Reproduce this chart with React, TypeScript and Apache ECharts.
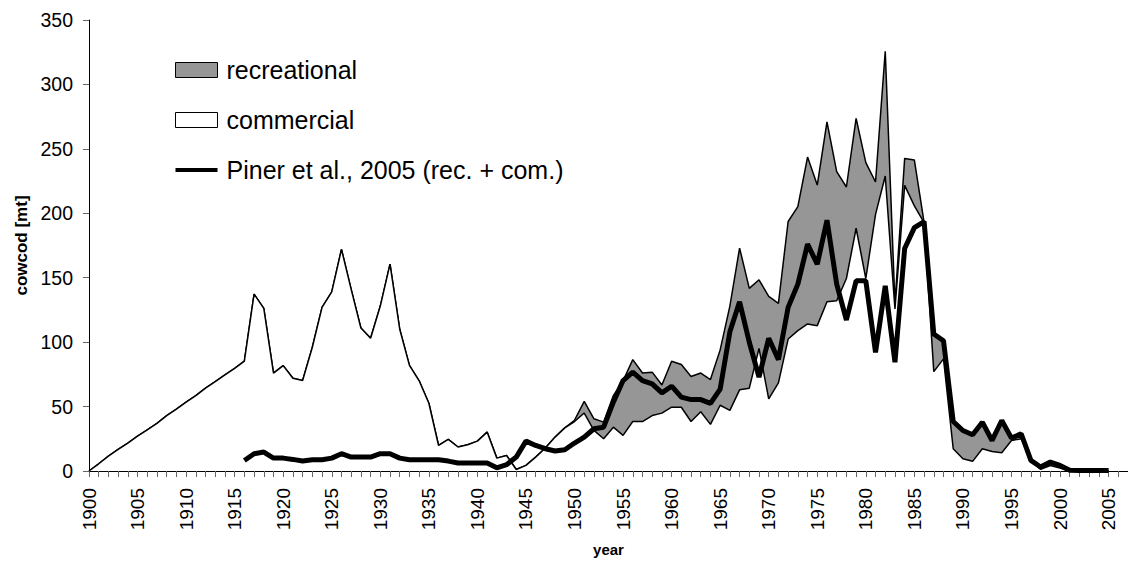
import React, { useEffect, useRef } from 'react';
import * as echarts from 'echarts';

const FIRST_YEAR = 1900;
const LAST_AXIS_YEAR = 2007;
const years: string[] = [];
for (let y = FIRST_YEAR; y <= LAST_AXIS_YEAR; y++) years.push(String(y));

// commercial catch 1900-2005 [mt]
const commercial: number[] = [
  0, 5.6, 11.6, 16.7, 21.7, 27, 32, 37, 43, 48,
  53.4, 58.5, 64.3, 69.4, 74.6, 79.7, 85.2, 137.3, 126.2, 75.9,
  81.8, 72, 70.2, 96, 127, 139, 172, 141, 111, 103,
  128, 160.5, 110, 82, 70, 52.6, 19.8, 24.5, 18.6, 20.4,
  23.2, 30.2, 10, 12, 1.2, 4.4, 10.8, 17.8, 26.3, 33.5,
  38.4, 45, 31.5, 25, 34, 27.6, 38.4, 38.4, 43, 44.9,
  49.5, 49.5, 38.4, 46, 36.2, 51, 47, 63, 64.3, 95.2,
  56, 68.4, 102.4, 108.9, 114.1, 112.8, 131.3, 132.1, 149.4, 188.4,
  149.4, 199.2, 228.9, 125.7, 221.7, 205.7, 192.8, 77.1, 87, 17.3,
  9.5, 7.5, 17.3, 15.2, 14.2, 23.7, 25, 8, 1.3, 4.3,
  2.3, 0, 0, 0, 0, 0,
];

// recreational catch, stacked on commercial, 1950-2005
const recreationalStart = 1950;
const recreationalFrom1950: number[] = [
  1, 9, 9, 12.9, 24.5, 42.4, 48, 37.7, 33.7, 21.9,
  35.7, 33.1, 34.9, 30, 34.8, 43, 81, 110, 77.4, 53.2,
  79.5, 61.7, 91.2, 96.3, 129.5, 109.1, 139.7, 100.2, 71, 85.2,
  89.9, 25.1, 96.8, 4.3, 20.9, 35.6, 0.2, 29.2, 14.1, 21.9,
  21.9, 20.6, 20.6, 8.5, 25, 1.8, 3.9, 0.2, 1.8, 2.7,
  2, 0.5, 0, 0, 0, 0,
];

// Piner et al., 2005 (rec. + com.), 1916-2005
const pinerStart = 1916;
const pinerFrom1916: number[] = [
  8.2, 13.4, 14.7, 10, 10, 9, 7.7, 8.7, 8.7, 10,
  13.4, 10.8, 10.8, 10.8, 13.4, 13.4, 10, 8.7, 8.7, 8.7,
  8.7, 7.7, 6.2, 6.2, 6.2, 6.2, 2.5, 4.9, 10.8, 23.2,
  19.8, 17.3, 15.5, 16.5, 21.7, 26.3, 32.8, 34, 53.4, 70.2,
  76.7, 70.2, 67.6, 60.6, 65.8, 57.3, 55.4, 55.4, 52.5, 63.5,
  108, 131.3, 99.9, 72.8, 103, 86.4, 127, 145, 176, 160.5,
  194.6, 145, 117.2, 147.6, 147.6, 92.1, 143.7, 84.4, 172.7, 188.9,
  193.6, 106.3, 101.1, 38.4, 31.4, 28.1, 37.9, 23.7, 39.2, 25.5,
  28.9, 8.2, 3.1, 7, 4.3, 0.5, 0.3, 0.3, 0.3, 0.3,
];

const yTicks = { min: 0, max: 350, interval: 50 };
const FONT = '"Liberation Sans", Arial, sans-serif';

export default function App() {
  const ref = useRef<HTMLDivElement>(null);
  useEffect(() => {
    if (!ref.current) return;
    const chart = echarts.init(ref.current, undefined, { renderer: 'svg' });

    const recreational: number[] = commercial.map((_, i) => {
      const k = FIRST_YEAR + i - recreationalStart;
      return k >= 0 && k < recreationalFrom1950.length ? recreationalFrom1950[k] : 0;
    });
    const piner: (number | null)[] = commercial.map((_, i) => {
      const k = FIRST_YEAR + i - pinerStart;
      return k >= 0 && k < pinerFrom1916.length ? pinerFrom1916[k] : null;
    });

    chart.setOption({
      animation: false,
      backgroundColor: '#ffffff',
      textStyle: { fontFamily: FONT },
      grid: { left: 89, right: -4.4, top: 20, bottom: 90, containLabel: false },
      legend: {
        orient: 'vertical',
        left: 170,
        top: 52.5,
        itemWidth: 42,
        itemHeight: 15,
        itemGap: 25,
        selectedMode: false,
        textStyle: { fontSize: 25, color: '#000', fontFamily: FONT, padding: [0, 0, 0, 4] },
        data: [
          { name: 'recreational', icon: 'rect', itemStyle: { color: '#969696', borderColor: '#000', borderWidth: 1 } },
          { name: 'commercial', icon: 'rect', itemStyle: { color: '#ffffff', borderColor: '#000', borderWidth: 1 } },
          { name: 'Piner et al., 2005 (rec. + com.)', icon: 'path://M0,5.5 L42,5.5 L42,9.5 L0,9.5 Z', itemStyle: { color: '#000' } },
        ],
      },
      xAxis: {
        type: 'category',
        data: years,
        boundaryGap: false,
        name: 'year',
        nameLocation: 'middle',
        nameGap: 71,
        nameTextStyle: { fontSize: 15, fontWeight: 'bold', color: '#000', fontFamily: FONT },
        axisLine: { show: true, lineStyle: { color: '#000', width: 1 } },
        axisTick: { show: true, interval: 0, length: 6, lineStyle: { color: '#666' } },
        axisLabel: { interval: 4, rotate: 90, margin: 17, fontSize: 19, color: '#000', fontFamily: FONT },
        splitLine: { show: false },
      },
      yAxis: {
        type: 'value',
        min: yTicks.min,
        max: yTicks.max,
        interval: yTicks.interval,
        name: 'cowcod [mt]',
        nameLocation: 'middle',
        nameRotate: 90,
        nameGap: 59,
        nameTextStyle: { fontSize: 17, fontWeight: 'bold', color: '#000', fontFamily: FONT },
        axisLine: { show: true, lineStyle: { color: '#000', width: 1 } },
        axisTick: { show: true, length: 6, lineStyle: { color: '#666' } },
        axisLabel: { margin: 16, fontSize: 19.5, color: '#000', fontFamily: FONT },
        splitLine: { show: false },
      },
      series: [
        {
          name: 'commercial',
          type: 'line',
          stack: 'catch',
          data: commercial,
          showSymbol: false,
          symbol: 'none',
          lineStyle: { color: '#000', width: 1.5 },
          itemStyle: { color: '#ffffff' },
          areaStyle: { color: '#ffffff', opacity: 1 },
          z: 2,
        },
        {
          name: 'recreational',
          type: 'line',
          stack: 'catch',
          data: recreational,
          showSymbol: false,
          symbol: 'none',
          lineStyle: { color: '#000', width: 1.5 },
          itemStyle: { color: '#969696' },
          areaStyle: { color: '#969696', opacity: 1 },
          z: 1,
        },
        {
          name: 'Piner et al., 2005 (rec. + com.)',
          type: 'line',
          data: piner,
          showSymbol: false,
          symbol: 'none',
          connectNulls: false,
          lineStyle: { color: '#000', width: 5 },
          itemStyle: { color: '#000' },
          z: 5,
        },
      ],
    });
    return () => chart.dispose();
  }, []);

  return (
    <div
      ref={ref}
      style={{ position: 'fixed', left: 0, top: 0, width: 1128, height: 562, background: '#fff' }}
    />
  );
}
